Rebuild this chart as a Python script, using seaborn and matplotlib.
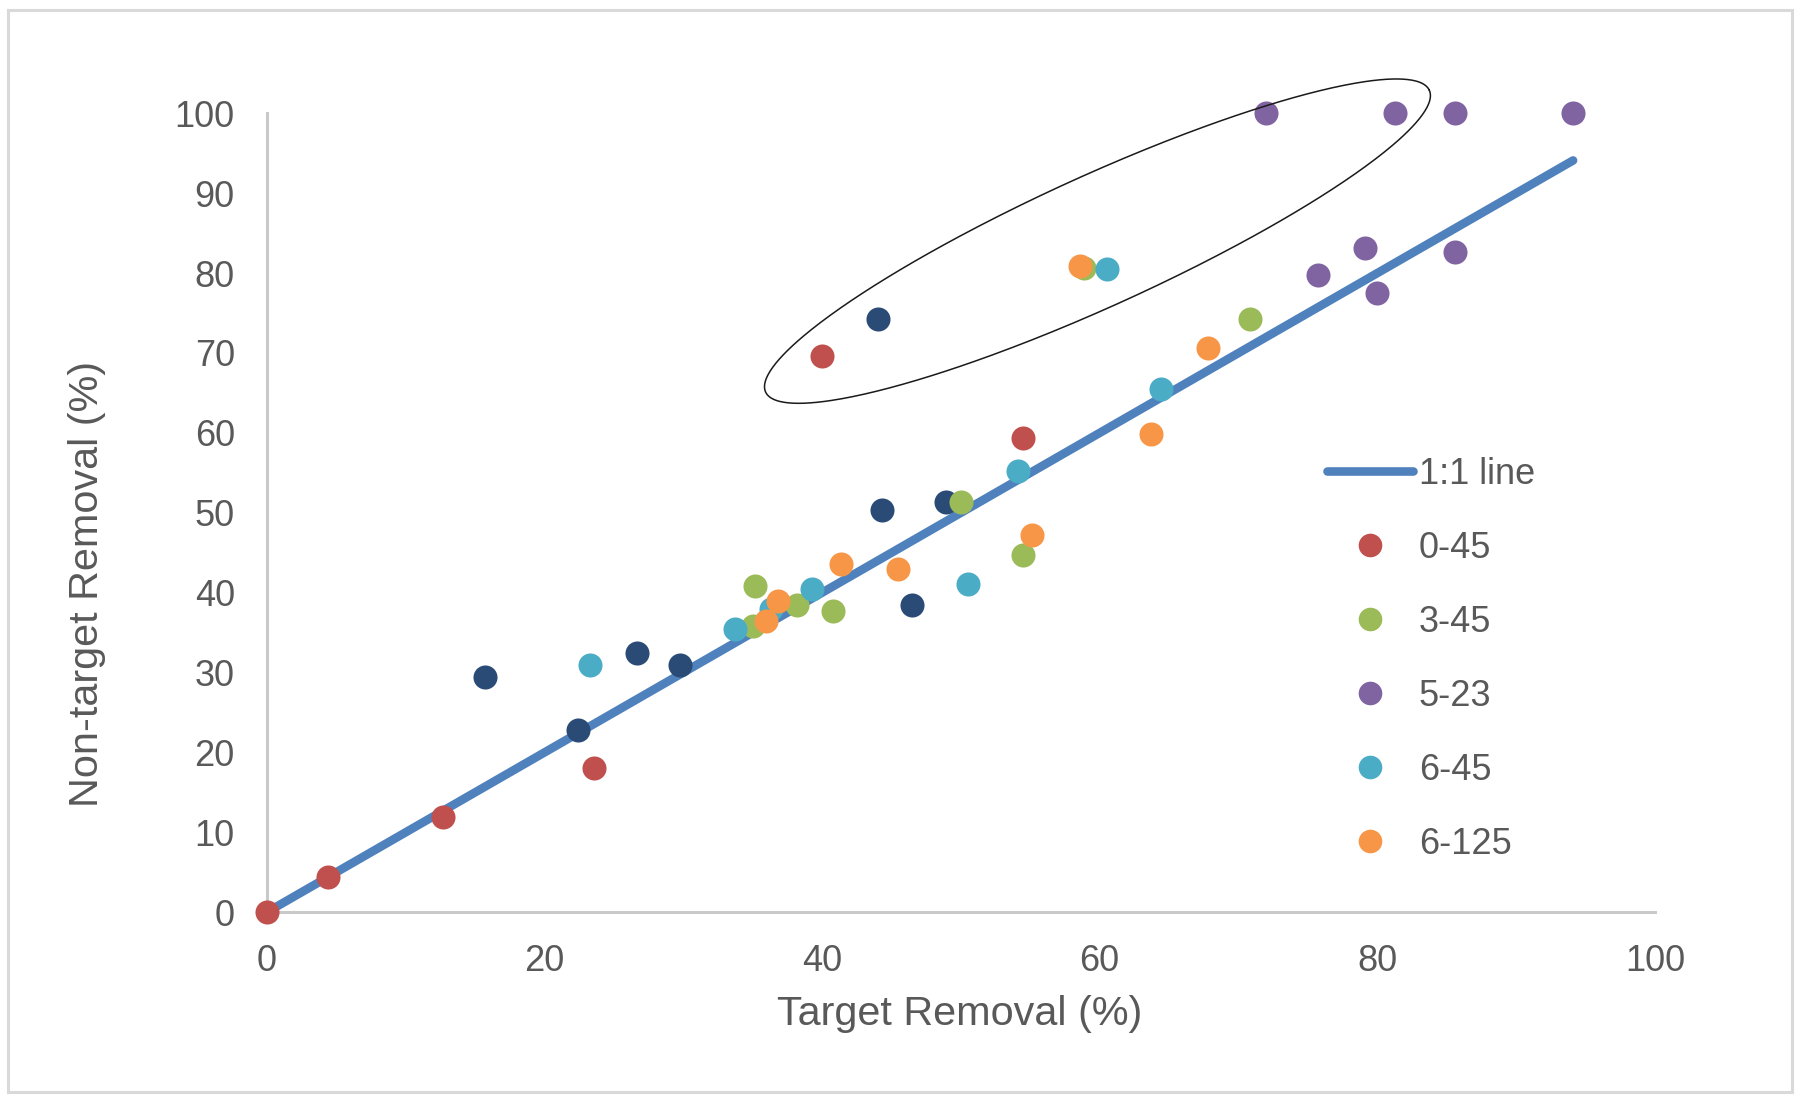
import numpy as np
import pandas as pd
import matplotlib
matplotlib.use("Agg")
import matplotlib.pyplot as plt
from matplotlib.lines import Line2D
from matplotlib.patches import Rectangle
import seaborn as sns

# ---------------- data ----------------
navy_x = [15.7, 22.4, 26.7, 29.8, 44.0, 44.3, 46.5, 48.9]
navy_y = [29.5, 22.8, 32.5, 30.9, 74.3, 50.3, 38.4, 51.3]

red_x = [0.0, 4.4, 12.7, 23.6, 40.0, 54.5]
red_y = [0.0, 4.4, 11.9, 18.1, 69.6, 59.3]

green_x = [35.0, 35.2, 38.2, 40.8, 50.0, 54.5, 58.9, 70.8]
green_y = [35.8, 40.8, 38.5, 37.7, 51.3, 44.7, 80.6, 74.2]

purple_x = [72.0, 81.3, 85.6, 94.1, 75.7, 79.1, 80.0, 85.6]
purple_y = [100.0, 100.0, 100.0, 100.0, 79.7, 83.1, 77.5, 82.6]

cyan_x = [23.3, 33.7, 36.3, 39.3, 50.5, 54.1, 60.5, 64.4]
cyan_y = [31.0, 35.5, 38.0, 40.5, 41.1, 55.2, 80.5, 65.5]

orange_x = [36.0, 36.8, 41.4, 45.5, 55.1, 58.6, 63.7, 67.8]
orange_y = [36.4, 38.9, 43.6, 43.0, 47.2, 80.9, 59.8, 70.6]

line_x = [0.0, 94.1]
line_y = [0.0, 94.1]

series_names = ["navy", "0-45", "3-45", "5-23", "6-45", "6-125"]
legend_names = ["0-45", "3-45", "5-23", "6-45", "6-125"]
x_ticks = [0, 20, 40, 60, 80, 100]
y_ticks = [0, 10, 20, 30, 40, 50, 60, 70, 80, 90, 100]

# ---------------- styling ----------------
palette = {
    "navy": "#2A4B76",
    "0-45": "#C0504D",
    "3-45": "#9BBB59",
    "5-23": "#8064A2",
    "6-45": "#4BACC6",
    "6-125": "#F79646",
}
line_color = "#4F81BD"
text_color = "#595959"
spine_color = "#C9C9C9"

sns.set_theme(style="white")
plt.rcParams["font.family"] = ["Liberation Sans", "DejaVu Sans"]

W, H = 1800, 1101
fig = plt.figure(figsize=(W / 100, H / 100), dpi=100)
fig.patch.set_facecolor("white")

# axes placement (pixels)
x0_px, x1_px = 266.7, 1655.0
y0_px, y1_px = 912.3, 113.3
ax = fig.add_axes([x0_px / W, 1 - y0_px / H, (x1_px - x0_px) / W, (y0_px - y1_px) / H])

# outer chart frame
fig.patches.append(Rectangle((7.5 / W, 9.5 / H), (1792 - 7.5) / W, (1091.5 - 9.5) / H,
                             transform=fig.transFigure, fill=False,
                             edgecolor="#D9D9D9", linewidth=2.2, zorder=0))

# data frame
xs = navy_x + red_x + green_x + purple_x + cyan_x + orange_x
ys = navy_y + red_y + green_y + purple_y + cyan_y + orange_y
grp = (["navy"] * len(navy_x) + ["0-45"] * len(red_x) + ["3-45"] * len(green_x)
       + ["5-23"] * len(purple_x) + ["6-45"] * len(cyan_x) + ["6-125"] * len(orange_x))
df = pd.DataFrame({"x": xs, "y": ys, "group": grp})

# 1:1 line
line_df = pd.DataFrame({"x": line_x, "y": line_y})
sns.lineplot(data=line_df, x="x", y="y", ax=ax, color=line_color, linewidth=6.2,
             solid_capstyle="round", zorder=2, legend=False)

# points, series by series to control stacking order
for i, name in enumerate(series_names):
    sub = df[df["group"] == name]
    sns.scatterplot(data=sub, x="x", y="y", ax=ax, color=palette[name], s=300,
                    linewidth=0, zorder=3 + i, legend=False, clip_on=False)

# ellipse annotation
t = np.linspace(0, 2 * np.pi, 500)
ell_c = (59.84, 84.0)
ell_a = (23.9, 18.9)
ell_b = (2.0, -7.4)
ex = ell_c[0] + ell_a[0] * np.cos(t) + ell_b[0] * np.sin(t)
ey = ell_c[1] + ell_a[1] * np.cos(t) + ell_b[1] * np.sin(t)
ax.plot(ex, ey, color="#1A1A1A", linewidth=1.1, clip_on=False, zorder=10)

# axes
ax.set_xlim(0, 100)
ax.set_ylim(0, 100)
ax.set_xticks(x_ticks)
ax.set_yticks(y_ticks)
ax.set_xticklabels([str(v) for v in x_ticks])
ax.set_yticklabels([str(v) for v in y_ticks])
ax.tick_params(axis="both", length=0, labelsize=26, labelcolor=text_color)
ax.tick_params(axis="x", pad=23)
ax.tick_params(axis="y", pad=23)
for side in ["top", "right"]:
    ax.spines[side].set_visible(False)
for side in ["left", "bottom"]:
    ax.spines[side].set_color(spine_color)
    ax.spines[side].set_linewidth(2.2)
    ax.spines[side].set_zorder(1)
ax.grid(False)
ax.set_xlabel("")
ax.set_ylabel("")

# axis titles
fig.text(960 / W, 1 - 1025 / H, "Target Removal (%)", ha="center", va="baseline",
         fontsize=29.8, color=text_color)
fig.text(98 / W, 1 - 584 / H, "Non-target Removal (%)", ha="center", va="baseline",
         rotation=90, rotation_mode="anchor", fontsize=29.8, color=text_color)

# legend
handles = [Line2D([0], [0], color=line_color, linewidth=6.2, solid_capstyle="round")]
labels = ["1:1 line"]
for name in legend_names:
    handles.append(Line2D([0], [0], linestyle="none", marker="o", markersize=17,
                          markerfacecolor=palette[name], markeredgewidth=0))
    labels.append(name)
leg = ax.legend(handles, labels, loc="upper left",
                bbox_to_anchor=(1326.7 / W, 1 - 457 / H), bbox_transform=fig.transFigure,
                frameon=False, fontsize=26, handlelength=2.4, handletextpad=0.15,
                labelspacing=1.08, borderpad=0, borderaxespad=0)
for txt in leg.get_texts():
    txt.set_color(text_color)

fig.savefig("out.png", dpi=100, facecolor="white")
